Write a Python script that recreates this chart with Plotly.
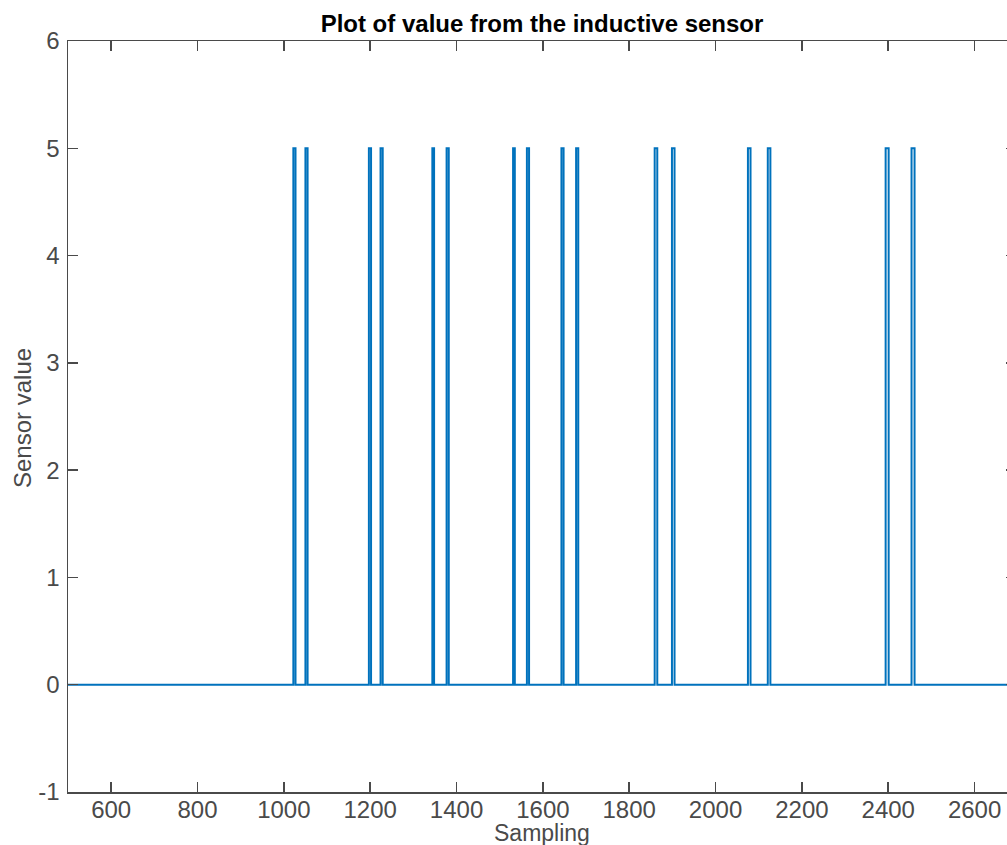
import plotly.graph_objects as go

# Data: sensor jumps from 0 to 5 during these sample windows
signal_start = 500
signal_end = 2700
pulse_starts = [1022, 1050, 1197, 1224, 1344, 1377, 1531, 1563, 1643, 1677, 1859, 1899, 2075, 2121, 2394, 2454]
pulse_ends   = [1027, 1055, 1202, 1229, 1348, 1382, 1535, 1568, 1648, 1682, 1865, 1905, 2081, 2127, 2401, 2461]
low_value = 0
high_value = 5

x_ticks = [600, 800, 1000, 1200, 1400, 1600, 1800, 2000, 2200, 2400, 2600]
y_ticks = [-1, 0, 1, 2, 3, 4, 5, 6]
y_tick_text = ["-1", "0", "1", "2", "3", "4", "5", "6"]

xs = [signal_start]
ys = [low_value]
for s, e in zip(pulse_starts, pulse_ends):
    xs += [s, s, e, e]
    ys += [low_value, high_value, high_value, low_value]
xs.append(signal_end)
ys.append(low_value)

axis_col = "#4a4a4a"
font_fam = "Liberation Sans, Arial, Helvetica, sans-serif"

# body margin removed in post_script; figure slightly wider than window (cropped like the reference)
W, H = 1016, 845
L, R, T, B = 68, 1016, 41, 792
PX_PER_UNIT = 0.4317

fig = go.Figure()
fig.add_trace(go.Scatter(x=xs, y=ys, mode="lines",
                         line=dict(color="#0072BD", width=2),
                         showlegend=False, hoverinfo="skip"))
# invisible trace for the right-hand tick axis
fig.add_trace(go.Scatter(x=[signal_start], y=[0], yaxis="y2", mode="markers",
                         marker=dict(opacity=0), showlegend=False, hoverinfo="skip"))

fig.update_layout(
    width=W, height=H,
    margin=dict(l=L, r=W - R, t=T, b=H - B, autoexpand=False),
    paper_bgcolor="white", plot_bgcolor="white",
    font=dict(family=font_fam, color=axis_col, size=24),
    title=dict(text="<b>Plot of value from the inductive sensor</b>",
               x=542 / W, xref="container", xanchor="center",
               y=1 - 24 / H, yref="container", yanchor="middle",
               automargin=False,
               font=dict(size=24, color="black", family=font_fam)),
    xaxis=dict(range=[500, 500 + (R - L) / PX_PER_UNIT], tickvals=x_ticks,
               ticks="inside", ticklen=10, tickwidth=1.5, tickcolor=axis_col,
               showline=True, linecolor=axis_col, linewidth=1.5, mirror="ticks",
               showgrid=False, zeroline=False, ticklabelstandoff=-4, automargin=False,
               tickfont=dict(size=24, color=axis_col)),
    yaxis=dict(range=[-1, 6], tickvals=y_ticks, ticktext=y_tick_text,
               ticks="inside", ticklen=10, tickwidth=1.5, tickcolor=axis_col,
               showline=True, linecolor=axis_col, linewidth=1.5, mirror=False,
               showgrid=False, zeroline=False, ticklabelstandoff=2, automargin=False,
               tickfont=dict(size=24, color=axis_col)),
    yaxis2=dict(range=[-1, 6], tickvals=y_ticks, overlaying="y", side="right",
                anchor="x", ticks="inside", ticklen=10, tickwidth=1.5, tickcolor=axis_col,
                showticklabels=False, showline=False, showgrid=False, zeroline=False,
                automargin=False),
    annotations=[
        dict(text="Sampling", xref="paper", yref="paper",
             x=(542 - L) / (R - L), y=-(833 - B) / (B - T),
             xanchor="center", yanchor="middle", showarrow=False,
             font=dict(size=23, color=axis_col, family=font_fam)),
        dict(text="Sensor value", xref="paper", yref="paper",
             x=-(L - 22) / (R - L), y=(B - 418) / (B - T),
             xanchor="center", yanchor="middle", textangle=-90, showarrow=False,
             font=dict(size=24, color=axis_col, family=font_fam)),
    ],
)

fig.write_html("out.html",
               config={"displayModeBar": False, "staticPlot": True},
               post_script="document.body.style.margin='0';"
                           "document.body.style.overflow='hidden';"
                           "document.documentElement.style.overflow='hidden';")
